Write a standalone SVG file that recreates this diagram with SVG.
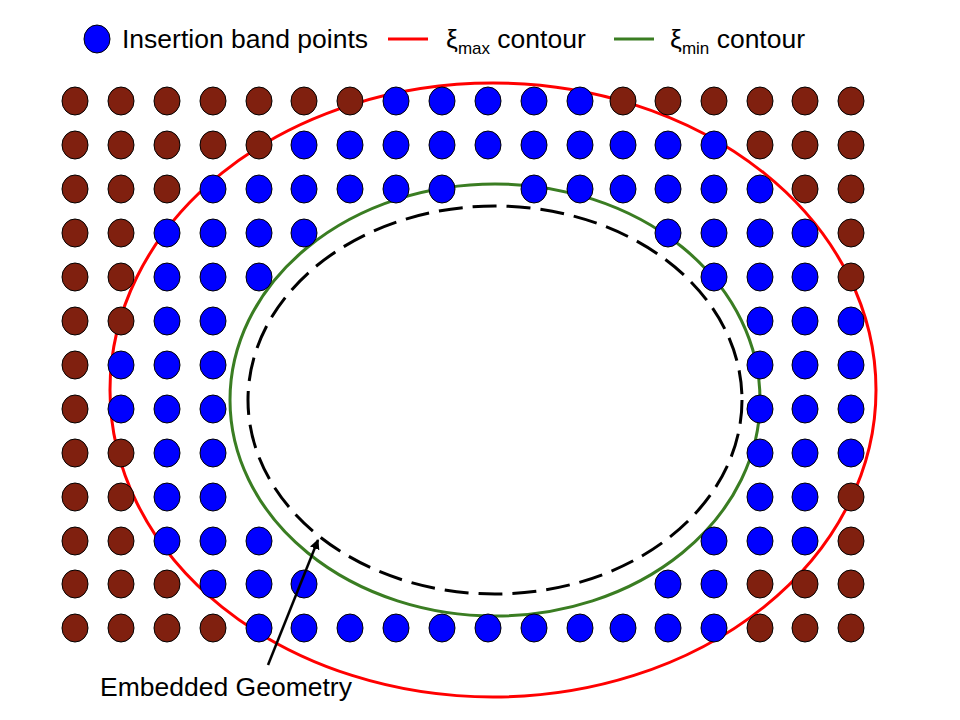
<svg xmlns="http://www.w3.org/2000/svg" width="960" height="720" viewBox="0 0 960 720">
<style>
.b{fill:#0000ff;stroke:#000;stroke-width:1}
.r{fill:#80200f;stroke:#000;stroke-width:1}
text{font-family:"Liberation Sans",Arial,sans-serif;font-size:26.5px;fill:#000}
</style>
<defs>
<ellipse id="d" cx="0" cy="0" rx="13" ry="14"/>
<marker id="ah" markerWidth="10" markerHeight="10" refX="9" refY="5" orient="auto" markerUnits="userSpaceOnUse" viewBox="0 0 10 10"><path d="M0,0 L10,5 L0,10 z" fill="#000"/></marker>
</defs>
<rect width="960" height="720" fill="#fff"/>
<g id="legend">
<ellipse class="b" cx="97" cy="39" rx="13" ry="14"/>
<text x="122" y="48">Insertion band points</text>
<line x1="388" y1="39" x2="428" y2="39" stroke="#ff0000" stroke-width="3"/>
<text x="446" y="48">ξ<tspan font-size="17" dy="6">max</tspan><tspan dy="-6"> contour</tspan></text>
<line x1="614" y1="39" x2="654" y2="39" stroke="#3a7d22" stroke-width="3"/>
<text x="670" y="48">ξ<tspan font-size="17" dy="6">min</tspan><tspan dy="-6"> contour</tspan></text>
</g>
<g id="contours" fill="none">
<ellipse id="xi-max" cx="493" cy="390" rx="383" ry="307" stroke="#ff0000" stroke-width="3"/>
<ellipse id="xi-min" cx="495" cy="400" rx="265" ry="216" stroke="#3a7d22" stroke-width="3"/>
<ellipse id="geometry" cx="495" cy="400" rx="247" ry="194" stroke="#000" stroke-width="3" stroke-dasharray="24,10"/>
</g>
<g id="grid">
<g transform="translate(0,101)"><use href="#d" x="75" class="r"/><use href="#d" x="121" class="r"/><use href="#d" x="167" class="r"/><use href="#d" x="213" class="r"/><use href="#d" x="259" class="r"/><use href="#d" x="304" class="r"/><use href="#d" x="350" class="r"/><use href="#d" x="396" class="b"/><use href="#d" x="442" class="b"/><use href="#d" x="488" class="b"/><use href="#d" x="534" class="b"/><use href="#d" x="580" class="b"/><use href="#d" x="623" class="r"/><use href="#d" x="668" class="r"/><use href="#d" x="714" class="r"/><use href="#d" x="760" class="r"/><use href="#d" x="805" class="r"/><use href="#d" x="851" class="r"/></g>
<g transform="translate(0,145)"><use href="#d" x="75" class="r"/><use href="#d" x="121" class="r"/><use href="#d" x="167" class="r"/><use href="#d" x="213" class="r"/><use href="#d" x="259" class="r"/><use href="#d" x="304" class="b"/><use href="#d" x="350" class="b"/><use href="#d" x="396" class="b"/><use href="#d" x="442" class="b"/><use href="#d" x="488" class="b"/><use href="#d" x="534" class="b"/><use href="#d" x="580" class="b"/><use href="#d" x="623" class="b"/><use href="#d" x="668" class="b"/><use href="#d" x="714" class="b"/><use href="#d" x="760" class="r"/><use href="#d" x="805" class="r"/><use href="#d" x="851" class="r"/></g>
<g transform="translate(0,189)"><use href="#d" x="75" class="r"/><use href="#d" x="121" class="r"/><use href="#d" x="167" class="r"/><use href="#d" x="213" class="b"/><use href="#d" x="259" class="b"/><use href="#d" x="304" class="b"/><use href="#d" x="350" class="b"/><use href="#d" x="396" class="b"/><use href="#d" x="442" class="b"/><use href="#d" x="534" class="b"/><use href="#d" x="580" class="b"/><use href="#d" x="623" class="b"/><use href="#d" x="668" class="b"/><use href="#d" x="714" class="b"/><use href="#d" x="760" class="b"/><use href="#d" x="805" class="r"/><use href="#d" x="851" class="r"/></g>
<g transform="translate(0,233)"><use href="#d" x="75" class="r"/><use href="#d" x="121" class="r"/><use href="#d" x="167" class="b"/><use href="#d" x="213" class="b"/><use href="#d" x="259" class="b"/><use href="#d" x="304" class="b"/><use href="#d" x="668" class="b"/><use href="#d" x="714" class="b"/><use href="#d" x="760" class="b"/><use href="#d" x="805" class="b"/><use href="#d" x="851" class="r"/></g>
<g transform="translate(0,277)"><use href="#d" x="75" class="r"/><use href="#d" x="121" class="r"/><use href="#d" x="167" class="b"/><use href="#d" x="213" class="b"/><use href="#d" x="259" class="b"/><use href="#d" x="714" class="b"/><use href="#d" x="760" class="b"/><use href="#d" x="805" class="b"/><use href="#d" x="851" class="r"/></g>
<g transform="translate(0,321)"><use href="#d" x="75" class="r"/><use href="#d" x="121" class="r"/><use href="#d" x="167" class="b"/><use href="#d" x="213" class="b"/><use href="#d" x="760" class="b"/><use href="#d" x="805" class="b"/><use href="#d" x="851" class="b"/></g>
<g transform="translate(0,365)"><use href="#d" x="75" class="r"/><use href="#d" x="121" class="b"/><use href="#d" x="167" class="b"/><use href="#d" x="213" class="b"/><use href="#d" x="760" class="b"/><use href="#d" x="805" class="b"/><use href="#d" x="851" class="b"/></g>
<g transform="translate(0,409)"><use href="#d" x="75" class="r"/><use href="#d" x="121" class="b"/><use href="#d" x="167" class="b"/><use href="#d" x="213" class="b"/><use href="#d" x="760" class="b"/><use href="#d" x="805" class="b"/><use href="#d" x="851" class="b"/></g>
<g transform="translate(0,453)"><use href="#d" x="75" class="r"/><use href="#d" x="121" class="r"/><use href="#d" x="167" class="b"/><use href="#d" x="213" class="b"/><use href="#d" x="760" class="b"/><use href="#d" x="805" class="b"/><use href="#d" x="851" class="b"/></g>
<g transform="translate(0,497)"><use href="#d" x="75" class="r"/><use href="#d" x="121" class="r"/><use href="#d" x="167" class="b"/><use href="#d" x="213" class="b"/><use href="#d" x="760" class="b"/><use href="#d" x="805" class="b"/><use href="#d" x="851" class="r"/></g>
<g transform="translate(0,541)"><use href="#d" x="75" class="r"/><use href="#d" x="121" class="r"/><use href="#d" x="167" class="b"/><use href="#d" x="213" class="b"/><use href="#d" x="259" class="b"/><use href="#d" x="714" class="b"/><use href="#d" x="760" class="b"/><use href="#d" x="805" class="b"/><use href="#d" x="851" class="r"/></g>
<g transform="translate(0,584)"><use href="#d" x="75" class="r"/><use href="#d" x="121" class="r"/><use href="#d" x="167" class="r"/><use href="#d" x="213" class="b"/><use href="#d" x="259" class="b"/><use href="#d" x="304" class="b"/><use href="#d" x="668" class="b"/><use href="#d" x="714" class="b"/><use href="#d" x="760" class="r"/><use href="#d" x="805" class="r"/><use href="#d" x="851" class="r"/></g>
<g transform="translate(0,628)"><use href="#d" x="75" class="r"/><use href="#d" x="121" class="r"/><use href="#d" x="167" class="r"/><use href="#d" x="213" class="r"/><use href="#d" x="259" class="b"/><use href="#d" x="304" class="b"/><use href="#d" x="350" class="b"/><use href="#d" x="396" class="b"/><use href="#d" x="442" class="b"/><use href="#d" x="488" class="b"/><use href="#d" x="534" class="b"/><use href="#d" x="580" class="b"/><use href="#d" x="623" class="b"/><use href="#d" x="668" class="b"/><use href="#d" x="714" class="b"/><use href="#d" x="760" class="r"/><use href="#d" x="805" class="r"/><use href="#d" x="851" class="r"/></g>
</g>
<g id="connectors">
<line x1="268" y1="665" x2="318" y2="540" stroke="#000" stroke-width="2.5" marker-end="url(#ah)"/>
</g>
<g id="label">
<text x="100" y="696" font-size="25.5">Embedded Geometry</text>
</g>
</svg>
